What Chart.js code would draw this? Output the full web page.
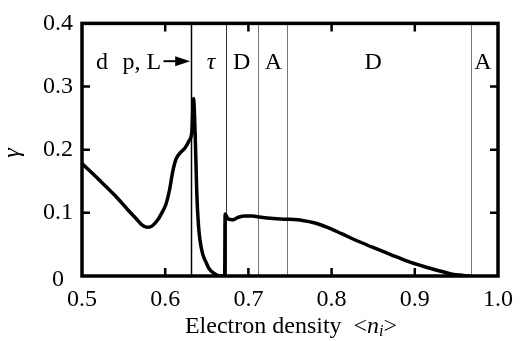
<!DOCTYPE html>
<html>
<head>
<meta charset="utf-8">
<script src="https://cdn.jsdelivr.net/npm/chart.js@4/dist/chart.umd.min.js"></script>
<style>
  html, body { margin: 0; padding: 0; background: #fff; }
  canvas { display: block; }
</style>
</head>
<body>
<canvas id="gammaChart" width="522" height="341"></canvas>
<script>
// ── Data ──────────────────────────────────────────────────────────
const densityX = [
  0.500, 0.520, 0.540, 0.555, 0.565, 0.572, 0.578, 0.584, 0.590, 0.596,
  0.601, 0.605, 0.609, 0.613, 0.618, 0.624, 0.629, 0.632, 0.634, 0.636,
  0.638, 0.640, 0.642, 0.645, 0.649, 0.653, 0.659, 0.665, 0.6715, 0.672,
  0.676, 0.681, 0.688, 0.696, 0.705, 0.715, 0.730, 0.746, 0.765, 0.780,
  0.795, 0.812, 0.832, 0.852, 0.871, 0.890, 0.911, 0.930, 0.945, 0.958,
  0.966
];
const gammaY = [
  0.178, 0.153, 0.127, 0.105, 0.091, 0.081, 0.077, 0.079, 0.087, 0.100,
  0.114, 0.135, 0.165, 0.185, 0.195, 0.203, 0.215, 0.228, 0.281, 0.225,
  0.130, 0.080, 0.055, 0.035, 0.022, 0.011, 0.004, 0.000, 0.000, 0.098,
  0.090, 0.089, 0.093, 0.095, 0.095, 0.093, 0.091, 0.090, 0.088, 0.084,
  0.077, 0.067, 0.055, 0.044, 0.034, 0.024, 0.015, 0.008, 0.003, 0.001,
  0.000
];

// phase boundaries (vertical lines) and region labels
const boundaryX     = [0.631, 0.673, 0.711, 0.746, 0.967];
const boundaryColor = ["#000", "#333", "#777", "#777", "#777"];
const boundaryWidth = [1.5, 1, 1, 1, 1];

const regionLabels = ["d", "p, L", "τ", "D", "A", "D", "A"];
const regionX      = [0.524, 0.572, 0.655, 0.692, 0.730, 0.850, 0.982];
const regionItalic = [false, false, true, false, false, false, false];
const regionY      = 0.337;
const arrowFrom    = 0.598;
const arrowTo      = 0.630;

const xTicks = [0.5, 0.6, 0.7, 0.8, 0.9, 1.0];
const yTicks = [0, 0.1, 0.2, 0.3, 0.4];

const SERIF = "'Liberation Serif', 'Times New Roman', serif";
const FS = 24;

// ── Frame, inward ticks, labels ───────────────────────────────────
const decorPlugin = {
  id: "decor",
  beforeDatasetsDraw(chart) {
    const { ctx, chartArea: a, scales: { x } } = chart;
    ctx.save();
    ctx.beginPath();
    ctx.rect(a.left, a.top, a.right - a.left, a.bottom - a.top);
    ctx.clip();
    boundaryX.forEach((v, i) => {
      const px = Math.round(x.getPixelForValue(v)) + 0.5;
      ctx.strokeStyle = boundaryColor[i];
      ctx.lineWidth   = boundaryWidth[i];
      ctx.beginPath();
      ctx.moveTo(px, a.top);
      ctx.lineTo(px, a.bottom);
      ctx.stroke();
    });
    ctx.restore();
  },
  afterDatasetsDraw(chart) {
    const { ctx, chartArea: a, scales: { x, y } } = chart;
    ctx.save();

    // ticks (inside, all four sides)
    ctx.strokeStyle = "#000";
    ctx.lineWidth = 2.5;
    const tl = 8;
    xTicks.slice(1, -1).forEach(v => {
      const px = x.getPixelForValue(v);
      ctx.beginPath();
      ctx.moveTo(px, a.bottom); ctx.lineTo(px, a.bottom - tl);
      ctx.moveTo(px, a.top);    ctx.lineTo(px, a.top + tl);
      ctx.stroke();
    });
    yTicks.slice(1, -1).forEach(v => {
      const py = y.getPixelForValue(v);
      ctx.beginPath();
      ctx.moveTo(a.left, py);  ctx.lineTo(a.left + tl, py);
      ctx.moveTo(a.right, py); ctx.lineTo(a.right - tl, py);
      ctx.stroke();
    });

    // frame
    ctx.lineWidth = 3.5;
    ctx.strokeRect(a.left, a.top, a.right - a.left, a.bottom - a.top);

    // the "0" of the y axis sits lower and further left than the others
    ctx.fillStyle = "#000";
    ctx.font = FS + "px " + SERIF;
    ctx.textAlign = "right";
    ctx.textBaseline = "middle";
    ctx.fillText("0", a.left - 18, y.getPixelForValue(0) + 4);

    // region labels
    ctx.textAlign = "center";
    const ly = y.getPixelForValue(regionY);
    regionLabels.forEach((t, i) => {
      ctx.font = (regionItalic[i] ? "italic " : "") + FS + "px " + SERIF;
      ctx.fillText(t, x.getPixelForValue(regionX[i]), ly);
    });

    // arrow
    const ax0 = x.getPixelForValue(arrowFrom);
    const ax1 = x.getPixelForValue(arrowTo);
    const ay  = ly - 2;
    ctx.lineWidth = 2;
    ctx.beginPath();
    ctx.moveTo(ax0, ay); ctx.lineTo(ax1 - 10, ay);
    ctx.stroke();
    ctx.beginPath();
    ctx.moveTo(ax1, ay);
    ctx.lineTo(ax1 - 15, ay - 5);
    ctx.lineTo(ax1 - 15, ay + 5);
    ctx.closePath();
    ctx.fill();

    // x axis title: Electron density  <n_i>
    const ty = 327;
    ctx.textAlign = "left";
    const parts = [
      { t: "Electron density  <", f: FS + "px " + SERIF, dy: 0 },
      { t: "n", f: "italic " + FS + "px " + SERIF, dy: 0 },
      { t: "i", f: "italic 16px " + SERIF, dy: 5 },
      { t: ">", f: FS + "px " + SERIF, dy: 0 },
    ];
    let total = 0;
    parts.forEach(p => { ctx.font = p.f; total += ctx.measureText(p.t).width; });
    let cx = 291 - total / 2;
    parts.forEach(p => {
      ctx.font = p.f;
      ctx.fillText(p.t, cx, ty + p.dy);
      cx += ctx.measureText(p.t).width;
    });

    // y axis title: gamma, rotated
    ctx.save();
    ctx.translate(13, 153);
    ctx.rotate(-Math.PI / 2);
    ctx.textAlign = "center";
    ctx.font = "italic " + FS + "px " + SERIF;
    ctx.fillText("γ", 0, 0);
    ctx.restore();

    ctx.restore();
  }
};

new Chart(document.getElementById("gammaChart"), {
  type: "line",
  data: {
    datasets: [{
      data: densityX.map((v, i) => ({ x: v, y: gammaY[i] })),
      borderColor: "#000",
      borderWidth: 3.5,
      pointRadius: 0,
      cubicInterpolationMode: "monotone",
      fill: false,
    }]
  },
  options: {
    responsive: false,
    animation: false,
    layout: { padding: { left: 0, top: 16, right: 21, bottom: 0 } },
    plugins: { legend: { display: false }, tooltip: { enabled: false } },
    scales: {
      x: {
        type: "linear", min: 0.5, max: 1.0,
        afterFit: s => { s.height = 65; },
        afterBuildTicks: s => { s.ticks = xTicks.map(v => ({ value: v })); },
        grid: { display: false, drawTicks: false },
        border: { display: false },
        ticks: {
          padding: 9, color: "#000",
          font: { family: SERIF, size: FS },
          callback: v => v.toFixed(1)
        }
      },
      y: {
        type: "linear", min: 0, max: 0.4,
        afterFit: s => { s.width = 82; },
        afterBuildTicks: s => { s.ticks = yTicks.map(v => ({ value: v })); },
        grid: { display: false, drawTicks: false },
        border: { display: false },
        ticks: {
          padding: 9, color: "#000",
          font: { family: SERIF, size: FS },
          callback: v => v === 0 ? "" : v.toFixed(1)
        }
      }
    }
  },
  plugins: [decorPlugin]
});
</script>
</body>
</html>
